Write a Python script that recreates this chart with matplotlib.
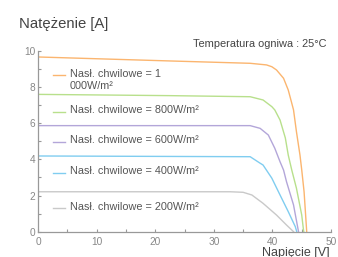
import matplotlib
matplotlib.use("Agg")
import matplotlib.pyplot as plt
from matplotlib.lines import Line2D
from matplotlib.ticker import MultipleLocator

plt.rcParams['font.family'] = ['Liberation Sans', 'DejaVu Sans']

# I-V curves: voltage [V], current [A]
v_1000 = [0, 22.5, 36.2, 39.0, 39.9, 40.7, 41.9, 42.7, 43.3, 43.6, 44.1, 44.7, 45.0, 45.4, 45.7, 45.85]
i_1000 = [9.67, 9.45, 9.32, 9.23, 9.13, 8.95, 8.49, 7.84, 7.11, 6.74, 5.53, 4.24, 3.42, 2.21, 0.74, 0.0]

v_800 = [0, 22.5, 36.2, 38.4, 39.9, 40.4, 41.3, 42.2, 42.7, 43.3, 44.1, 45.0, 45.3, 45.35]
i_800 = [7.60, 7.53, 7.47, 7.29, 6.92, 6.74, 6.18, 5.19, 4.24, 3.41, 2.40, 0.92, 0.09, 0.0]

v_600 = [0, 36.2, 37.9, 39.3, 40.4, 41.3, 41.9, 42.4, 43.6, 44.4, 44.45]
i_600 = [5.87, 5.87, 5.72, 5.35, 4.62, 3.87, 3.41, 2.77, 1.48, 0.09, 0.0]

v_400 = [0, 36.2, 37.9, 38.4, 39.9, 41.3, 42.7, 43.9, 44.15]
i_400 = [4.19, 4.15, 3.79, 3.69, 2.96, 2.03, 1.11, 0.28, 0.0]

v_200 = [0, 32.8, 35.0, 36.5, 38.4, 40.7, 42.4, 43.6]
i_200 = [2.21, 2.21, 2.18, 2.03, 1.57, 0.92, 0.37, 0.0]

labels = ["Nasł. chwilowe = 1\n000W/m²", "Nasł. chwilowe = 800W/m²",
          "Nasł. chwilowe = 600W/m²", "Nasł. chwilowe = 400W/m²",
          "Nasł. chwilowe = 200W/m²"]
colors = ['#fbb56f', '#b8e08c', '#b3a6d9', '#80cdf0', '#c9c9c9']
series = [(v_1000, i_1000), (v_800, i_800), (v_600, i_600),
          (v_400, i_400), (v_200, i_200)]

fig = plt.figure(figsize=(3.38, 2.57), dpi=100)
ax = fig.add_axes([0.1124, 0.0985, 0.867, 0.703])

for (v, i), c in zip(series, colors):
    ax.plot(v, i, color=c, linewidth=1.0, solid_joinstyle='round')

ax.set_xlim(0, 50)
ax.set_ylim(0, 10)
ax.xaxis.set_major_locator(MultipleLocator(10))
ax.xaxis.set_minor_locator(MultipleLocator(5))
ax.yaxis.set_major_locator(MultipleLocator(2))
ax.yaxis.set_minor_locator(MultipleLocator(1))
ax.tick_params(which='both', direction='in', length=2.5, width=0.8,
               color='#999999', labelcolor='#888888', labelsize=7.3)
ax.tick_params(axis='x', pad=3.5)
ax.tick_params(axis='y', pad=2)
for side in ['top', 'right']:
    ax.spines[side].set_visible(False)
for side in ['left', 'bottom']:
    ax.spines[side].set_color('#999999')
    ax.spines[side].set_linewidth(0.9)

# hand placed legend entries (one under each curve)
legend_y = [0.867, 0.664, 0.498, 0.325, 0.131]
for lab, c, y in zip(labels, colors, legend_y):
    ax.add_line(Line2D([0.051, 0.092], [y, y], transform=ax.transAxes,
                       color=c, linewidth=1.0))
    ax.text(0.109, y + 0.036, lab, transform=ax.transAxes, fontsize=7.8,
            color='#555555', va='top', ha='left', linespacing=1.25)

fig.text(19 / 338, 0.892, "Natężenie [A]", fontsize=10.7, color='#444444',
         ha='left', va='baseline')
fig.text(0.9666, 0.819, "Temperatura ogniwa : 25°C", fontsize=7.9,
         color='#444444', ha='right', va='baseline')
fig.text(0.976, 0.002, "Napięcie [V]", fontsize=9, color='#444444',
         ha='right', va='baseline')

fig.savefig("out.png", dpi=100)
